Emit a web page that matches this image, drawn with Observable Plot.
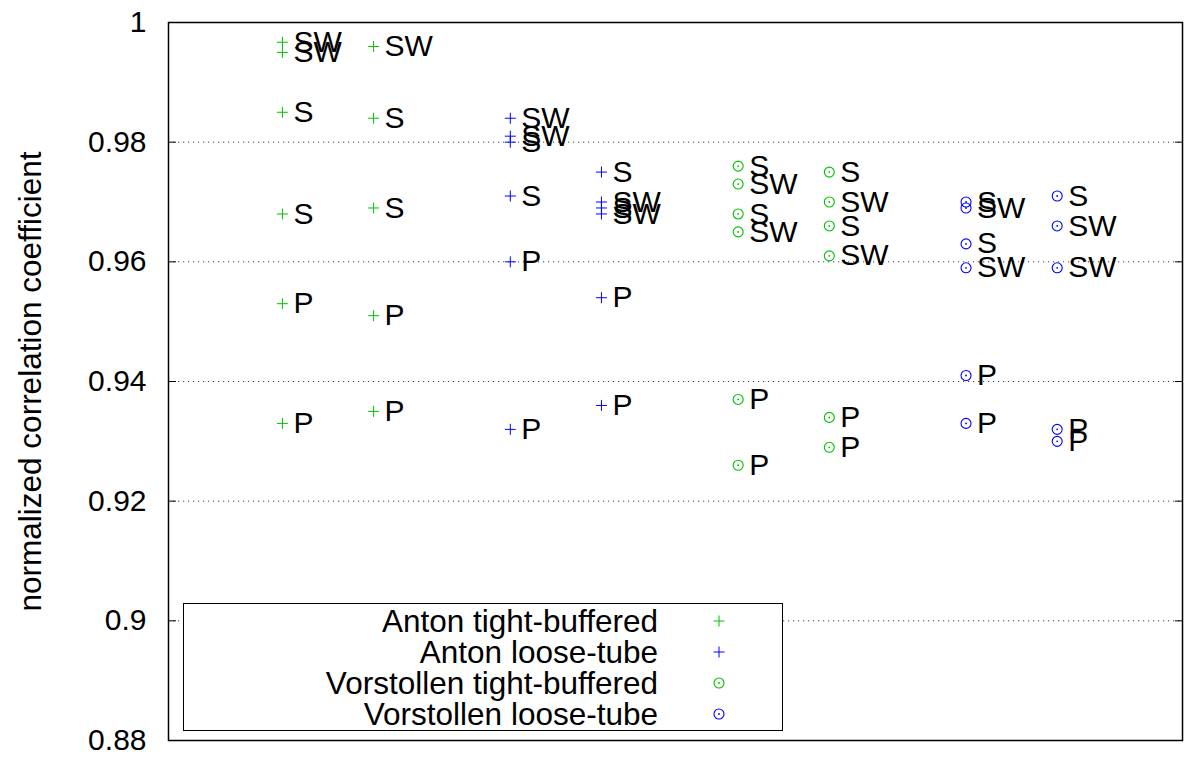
<!DOCTYPE html>
<html>
<head>
<meta charset="utf-8">
<script src="https://cdn.jsdelivr.net/npm/d3@7"></script>
<script src="https://cdn.jsdelivr.net/npm/@observablehq/plot@0.6"></script>
<style>
  html, body { margin: 0; padding: 0; background: #fff; }
  #wrap { position: relative; width: 1192px; height: 758px; font-family: "Liberation Sans", Arial, sans-serif; }
  #legend { position: absolute; left: 183px; top: 603px; width: 598px; height: 126px; border: 1px solid #000; background: #fff; }
  .row { position: absolute; left: 0; height: 31px; width: 100%; }
  .row .lab { position: absolute; right: 124px; top: 0; font-size: 31.5px; line-height: 31px; white-space: nowrap; color: #000; }
  .row svg { position: absolute; left: 525px; top: 5px; }
</style>
</head>
<body>
<div id="wrap"></div>
<script>
// ---- data ----
const seriesNames = ["Anton tight-buffered", "Anton loose-tube", "Vorstollen tight-buffered", "Vorstollen loose-tube"];
const seriesColors = ["#00c000", "#0000ff", "#00c000", "#0000ff"];
const seriesSymbols = ["plus", "plus", "circle", "circle"];

// per-point data: series index, x column, value, label
const pointSeries = [
  0,0,0,0,0,0,  0,0,0,0,0,
  1,1,1,1,1,1,  1,1,1,1,1,1,
  2,2,2,2,2,2,  2,2,2,2,2,2,
  3,3,3,3,3,3,  3,3,3,3,3
];
const pointX = [
  1,1,1,1,1,1,  1.4,1.4,1.4,1.4,1.4,
  2,2,2,2,2,2,  2.4,2.4,2.4,2.4,2.4,2.4,
  3,3,3,3,3,3,  3.4,3.4,3.4,3.4,3.4,3.4,
  4,4,4,4,4,4,  4.4,4.4,4.4,4.4,4.4
];
const pointValue = [
  0.9967,0.995,0.985,0.968,0.953,0.933,   0.996,0.984,0.969,0.951,0.935,
  0.984,0.981,0.980,0.971,0.960,0.932,    0.975,0.970,0.969,0.968,0.954,0.936,
  0.976,0.973,0.968,0.965,0.937,0.926,    0.975,0.970,0.966,0.961,0.934,0.929,
  0.970,0.969,0.963,0.959,0.941,0.933,    0.971,0.966,0.959,0.932,0.930
];
const pointLabel = [
  "SW","SW","S","S","P","P",   "SW","S","S","P","P",
  "SW","SW","S","S","P","P",   "S","SW","S","SW","P","P",
  "S","SW","S","SW","P","P",   "S","SW","S","SW","P","P",
  "S","SW","S","SW","P","P",   "S","SW","SW","P","P"
];
const yTicks = [0.88, 0.9, 0.92, 0.94, 0.96, 0.98, 1];
const yLabel = "normalized correlation coefficient";

// ---- build ----
const points = pointX.map((x, i) => ({x, y: pointValue[i], label: pointLabel[i], series: seriesNames[pointSeries[i]], sym: seriesSymbols[pointSeries[i]]}));
const plusPts = points.filter(d => d.sym === "plus");
const circPts = points.filter(d => d.sym === "circle");

const plusSymbol = { draw(ctx) { const r = 5.5; ctx.moveTo(-r, 0); ctx.lineTo(r, 0); ctx.moveTo(0, -r); ctx.lineTo(0, r); } };

const chart = Plot.plot({
  width: 1192, height: 758,
  marginLeft: 168, marginRight: 10, marginTop: 22, marginBottom: 18,
  style: { fontFamily: "'Liberation Sans', Arial, sans-serif", background: "#fff" },
  x: { domain: [0.5, 4.95], axis: null },
  y: { domain: [0.88, 1] },
  color: { domain: seriesNames, range: seriesColors },
  marks: [
    Plot.gridY(yTicks, { stroke: "#000", strokeOpacity: 0.75, strokeDasharray: "1.2,3.8", strokeWidth: 1 }),
    Plot.axisY({ ticks: yTicks, tickSize: 0, tickPadding: 22, fontSize: 30, tickFormat: d => String(d), label: null }),
    Plot.axisY({ ticks: yTicks, tickSize: 8, dx: 8, tickFormat: () => "", label: null }),
    Plot.axisY({ anchor: "right", ticks: yTicks, tickSize: 8, dx: -8, tickFormat: () => "", label: null }),
    Plot.text([yLabel], { frameAnchor: "left", rotate: -90, textAnchor: "middle", dx: -138, fontSize: 31.5, fill: "#000" }),
    Plot.dot(plusPts, { x: "x", y: "y", symbol: plusSymbol, stroke: "series", fill: "none", strokeWidth: 1 }),
    Plot.dot(circPts, { x: "x", y: "y", r: 5, stroke: "series", fill: "none", strokeWidth: 1.1 }),
    Plot.dot(circPts, { x: "x", y: "y", r: 0.9, fill: "series", stroke: "none" }),
    Plot.text(points, { x: "x", y: "y", text: "label", dx: 11, textAnchor: "start", lineAnchor: "middle", fontSize: 30, fill: "#000" }),
    Plot.frame({ stroke: "#000", strokeWidth: 1.5 })
  ]
});

const wrap = document.getElementById("wrap");
wrap.appendChild(chart);

// legend
const legend = document.createElement("div");
legend.id = "legend";
seriesNames.forEach((name, i) => {
  const row = document.createElement("div");
  row.className = "row";
  row.style.top = (2 + i * 31) + "px";
  const lab = document.createElement("span");
  lab.className = "lab";
  lab.textContent = name;
  row.appendChild(lab);
  const svg = d3.create("svg").attr("width", 20).attr("height", 20);
  const g = svg.append("g").attr("transform", "translate(10,10)");
  if (seriesSymbols[i] === "plus") {
    g.append("path").attr("d", "M-5.5,0H5.5M0,-5.5V5.5").attr("stroke", seriesColors[i]).attr("fill", "none");
  } else {
    g.append("circle").attr("r", 5).attr("stroke", seriesColors[i]).attr("fill", "none").attr("stroke-width", 1.1);
    g.append("circle").attr("r", 0.9).attr("fill", seriesColors[i]);
  }
  row.appendChild(svg.node());
  legend.appendChild(row);
});
wrap.appendChild(legend);
</script>
</body>
</html>
